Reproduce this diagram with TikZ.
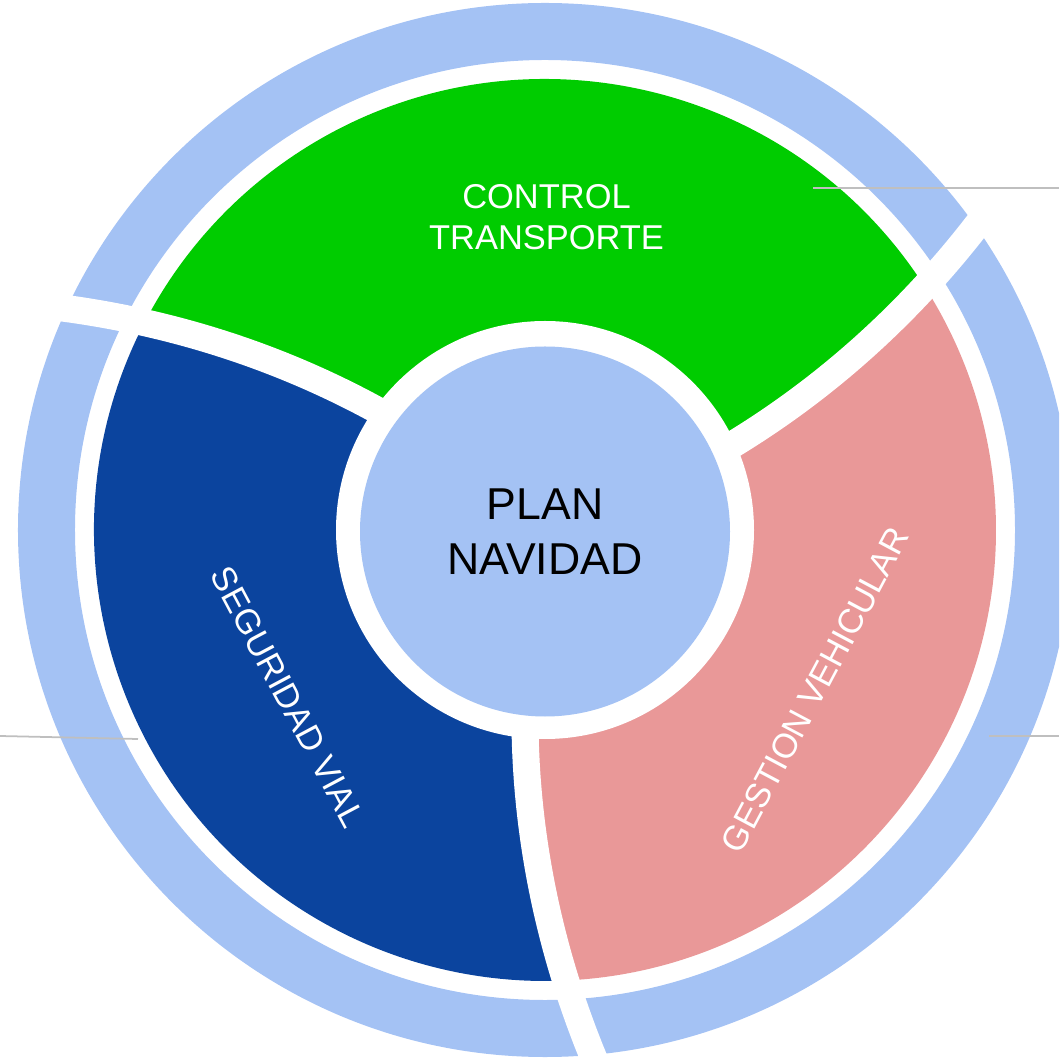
\documentclass[tikz,border=0pt]{standalone}
\usepackage{fontspec}
\setmainfont{Liberation Sans}
\usepackage{xcolor}
\usepackage{tikz}

\definecolor{ringblue}{HTML}{A4C2F4}
\definecolor{ctrlgreen}{HTML}{00CC00}
\definecolor{segblue}{HTML}{0B449E}
\definecolor{gestpink}{HTML}{E99898}

\begin{document}
\begin{tikzpicture}[
  gap/.style={draw=white, line width=2.7mm},
  lbl/.style={text=white, font=\fontsize{9.8}{11.8}\selectfont, align=center, inner sep=0pt},
  hub/.style={circle, fill=ringblue, minimum size=3.7cm, inner sep=0pt, align=center,
    font=\fontsize{12.7}{15.7}\selectfont},
  leader/.style={draw=black!25, line width=0.5pt}]
  \clip (-5.45,-5.30) rectangle (5.14,5.30);
  % outer ring
  \fill[ringblue, even odd rule] (0,0) circle (5.27) (0,0) circle (4.70);
  % three segments, cut along the spiral gaps
  \foreach \a/\b/\col in {24.6/144.6/ctrlgreen, 144.6/264.6/segblue, 264.6/384.6/gestpink}{
    \pgfmathsetmacro{\ea}{\a+3.33*2.41}
    \pgfmathsetmacro{\eb}{\b+3.33*2.41}
    \fill[\col] plot[domain=2.0:4.51, samples=15] ({\a+3.33*(\x-2.1)}:\x)
      arc[start angle=\ea, end angle=\eb, radius=4.51]
      -- plot[domain=4.51:2.0, samples=15] ({\b+3.33*(\x-2.1)}:\x) -- cycle;
  }
  \fill[white] (0,0) circle (2.09);
  \foreach \a in {24.6,144.6,264.6}
    \draw[gap] plot[domain=1.9:5.5, samples=25, smooth] ({\a+3.33*(\x-2.1)}:\x);
  % centre and labels
  \node[hub] (plan) at (0,-0.015) {PLAN\\NAVIDAD};
  \node[lbl] (ctrl) at (0.015,3.13) {CONTROL\\TRANSPORTE};
  \node[lbl, rotate=-62] (segv) at (-2.57,-1.67) {SEGURIDAD VIAL};
  \node[lbl, rotate=62] (gest) at (2.70,-1.60) {GESTION VEHICULAR};
  % leader lines
  \coordinate (ctrlA) at (2.68,3.42);
  \coordinate (ctrlB) at (5.14,3.42);
  \coordinate (segvA) at (-5.45,-2.06);
  \coordinate (segvB) at (-4.07,-2.09);
  \coordinate (gestA) at (4.44,-2.06);
  \coordinate (gestB) at (5.14,-2.06);
  \draw[leader] (ctrlA) -- (ctrlB);
  \draw[leader] (segvA) -- (segvB);
  \draw[leader] (gestA) -- (gestB);
\end{tikzpicture}
\end{document}
